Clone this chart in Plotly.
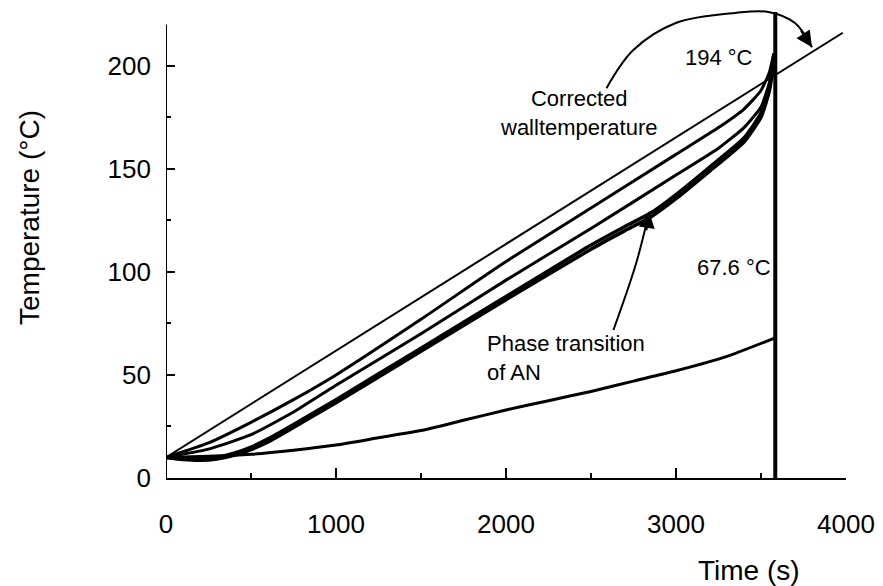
import plotly.graph_objects as go

# ---- data ----
end_time = 3584  # end of experiment (s)

time_wall = [0, 3981]
temp_wall = [10, 216]

time_a = [0, 250, 500, 750, 1000, 1500, 2000, 2500, 3000, 3250, 3400, 3500, 3550, 3575]
temp_a = [10, 17, 27, 38, 50, 77, 105, 131, 157, 170, 179, 188, 197, 206]

time_b = [0, 250, 500, 750, 1000, 1500, 2000, 2500, 3000, 3250, 3400, 3500, 3550, 3575]
temp_b = [10, 14, 21, 32, 45, 70, 96, 121, 147, 160, 170, 180, 192, 205]

time_c = [0, 100, 200, 300, 400, 500, 600, 750, 1000, 1500, 2000, 2500, 2700, 2850, 3000,
          3200, 3400, 3500, 3550, 3575]
temp_c = [10, 9.5, 9.2, 10, 12, 15, 19, 26, 38, 63, 88, 113, 122, 128.5, 137.5,
          151, 165, 177, 190, 204]

time_d = [0, 100, 200, 300, 400, 500, 600, 750, 1000, 1500, 2000, 2500, 2700, 2850, 3000,
          3200, 3400, 3500, 3550, 3575]
temp_d = [10, 9, 8.6, 9.2, 11, 13.8, 17.5, 24.5, 36.5, 61.5, 86.5, 111, 120, 126.5, 135.5,
          149, 163, 175, 188, 202]

time_low = [0, 250, 500, 750, 1000, 1250, 1500, 1750, 2000, 2250, 2500, 2750, 3000, 3300, 3584]
temp_low = [10, 10.5, 11.5, 13.5, 16, 19.5, 23, 28, 33, 37.5, 42, 47, 52, 59, 68]

# decorative curved arrows (annotation leaders)
arrow1_t = [2591, 2749, 2999, 3350, 3543, 3700, 3800]
arrow1_T = [189.1, 207.6, 220.7, 225.6, 226.1, 220.7, 209]
arrow2_t = [2632, 2766, 2842]
arrow2_T = [71.8, 104.3, 129.1]

x_ticks = [0, 1000, 2000, 3000, 4000]
y_ticks = [0, 50, 100, 150, 200]

FONT = "Liberation Sans, Arial, sans-serif"
BLACK = "#000000"

fig = go.Figure()

fig.add_trace(go.Scatter(x=time_wall, y=temp_wall, mode="lines",
                         line=dict(color=BLACK, width=2), hoverinfo="skip"))
for tt, yy, w in [(time_a, temp_a, 3), (time_b, temp_b, 3),
                  (time_c, temp_c, 3.5), (time_d, temp_d, 3.5),
                  (time_low, temp_low, 3)]:
    fig.add_trace(go.Scatter(x=tt, y=yy, mode="lines",
                             line=dict(color=BLACK, width=w, shape="spline", smoothing=0.5),
                             hoverinfo="skip"))

# end-of-experiment vertical line
fig.add_trace(go.Scatter(x=[end_time, end_time], y=[0, 226], mode="lines",
                         line=dict(color=BLACK, width=4), hoverinfo="skip", cliponaxis=False))

# curved leader lines
fig.add_trace(go.Scatter(x=arrow1_t, y=arrow1_T, mode="lines",
                         line=dict(color=BLACK, width=2, shape="spline"),
                         hoverinfo="skip", cliponaxis=False))
fig.add_trace(go.Scatter(x=arrow2_t, y=arrow2_T, mode="lines",
                         line=dict(color=BLACK, width=2, shape="spline"),
                         hoverinfo="skip", cliponaxis=False))

# y-axis line drawn only up to 220
fig.add_shape(type="line", x0=0, x1=0, y0=0, y1=220, xref="x", yref="y",
              line=dict(color=BLACK, width=2))

ann_font = dict(family=FONT, size=22, color=BLACK)
L, R, T, B, W, H = 166, 32, 8, 108, 883, 586
pw, ph = W - L - R, H - T - B


def px_x(v):
    return (v - L) / pw


def px_y(v):
    return (H - B - v) / ph


annotations = [
    dict(x=arrow1_t[-1], y=arrow1_T[-1], ax=-12, ay=-18, showarrow=True,
         arrowhead=2, arrowsize=1.6, arrowwidth=2, arrowcolor=BLACK, text=""),
    dict(x=arrow2_t[-1], y=arrow2_T[-1], ax=-3, ay=20, showarrow=True,
         arrowhead=2, arrowsize=1.6, arrowwidth=2, arrowcolor=BLACK, text=""),
    dict(x=3467, y=204, text="194 °C", showarrow=False, xanchor="right", font=ann_font),
    dict(x=3572, y=102, text="67.6 °C", showarrow=False, xanchor="right", font=ann_font),
    dict(x=2430, y=177, text="Corrected<br>walltemperature", showarrow=False,
         xanchor="center", align="center", font=ann_font),
    dict(x=1877, y=58, text="Phase transition<br>of AN", showarrow=False,
         xanchor="left", align="left", font=ann_font),
    dict(x=px_x(753), y=px_y(570), xref="paper", yref="paper", text="Time (s)",
         showarrow=False, xanchor="center", yanchor="middle",
         font=dict(family=FONT, size=28, color=BLACK)),
    dict(x=px_x(28), y=px_y(218), xref="paper", yref="paper", text="Temperature (°C)",
         textangle=-90, showarrow=False, xanchor="center", yanchor="middle",
         font=dict(family=FONT, size=28, color=BLACK)),
]

fig.update_layout(
    width=W, height=H,
    margin=dict(l=L, r=R, t=T, b=B),
    plot_bgcolor="white", paper_bgcolor="white",
    showlegend=False,
    font=dict(family=FONT, size=26, color=BLACK),
    annotations=annotations,
)
fig.update_xaxes(range=[0, 4000], tickvals=x_ticks, ticks="inside", ticklen=10, tickwidth=2,
                 tickcolor=BLACK, showline=True, linecolor=BLACK, linewidth=2,
                 showgrid=False, zeroline=False, ticklabelstandoff=22,
                 tickfont=dict(family=FONT, size=26, color=BLACK),
                 minor=dict(tickvals=[500, 1500, 2500, 3500], ticks="inside", ticklen=5,
                            tickwidth=2, tickcolor=BLACK, showgrid=False))
fig.update_yaxes(range=[0, 228], tickvals=y_ticks, ticks="inside", ticklen=9, tickwidth=2,
                 tickcolor=BLACK, showline=False, showgrid=False, zeroline=False,
                 ticklabelstandoff=14,
                 tickfont=dict(family=FONT, size=26, color=BLACK),
                 minor=dict(tickvals=[25, 75, 125, 175], ticks="inside", ticklen=5,
                            tickwidth=2, tickcolor=BLACK, showgrid=False))

fig.write_html("out.html", config={"displayModeBar": False},
               post_script="document.body.style.margin='0';document.body.style.overflow='hidden';")
